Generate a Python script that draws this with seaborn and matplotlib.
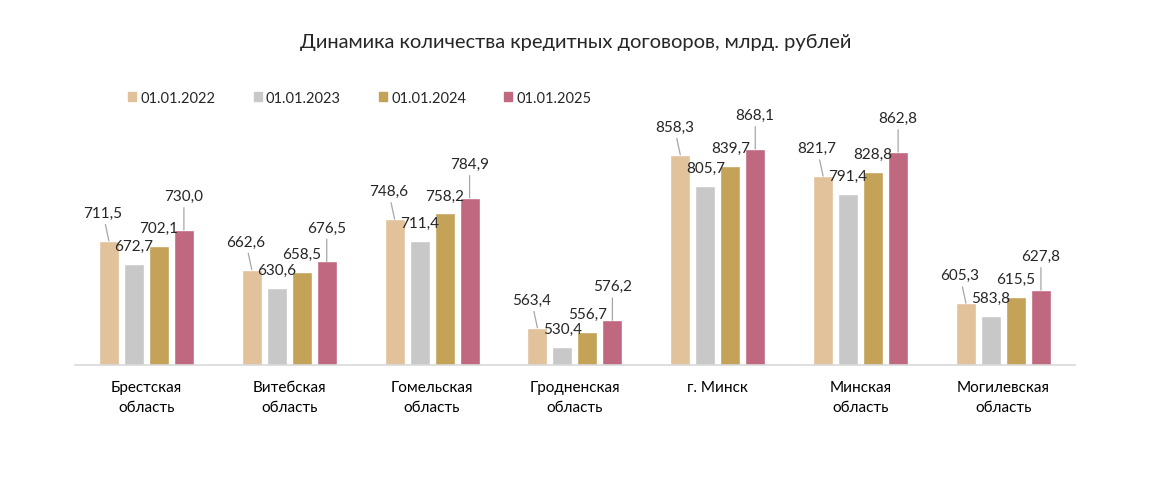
import pandas as pd
import numpy as np
import matplotlib.pyplot as plt
import seaborn as sns

# --- data ---
regions = ['Брестская\nобласть', 'Витебская\nобласть', 'Гомельская\nобласть',
           'Гродненская\nобласть', 'г. Минск', 'Минская\nобласть', 'Могилевская\nобласть']
dates = ['01.01.2022', '01.01.2023', '01.01.2024', '01.01.2025']
v2022 = [711.5, 662.6, 748.6, 563.4, 858.3, 821.7, 605.3]
v2023 = [672.7, 630.6, 711.4, 530.4, 805.7, 791.4, 583.8]
v2024 = [702.1, 658.5, 758.2, 556.7, 839.7, 828.8, 615.5]
v2025 = [730.0, 676.5, 784.9, 576.2, 868.1, 862.8, 627.8]
colors = ['#E2C29B', '#C8C8C8', '#C4A257', '#C0687F']

df = pd.DataFrame({
    'Region': regions * 4,
    'Date': np.repeat(dates, len(regions)),
    'Value': v2022 + v2023 + v2024 + v2025,
})

sns.set_style('white')
plt.rcParams['font.family'] = ['Lato', 'DejaVu Sans']

fig = plt.figure(figsize=(11.57, 4.89), dpi=100)
ax = fig.add_axes([0.0648, 0.2515, 0.8642, 0.4802])

sns.barplot(data=df, x='Region', y='Value', hue='Date', palette=colors,
            width=0.7, gap=0.2, ax=ax, saturation=1, legend=True)

ax.set_ylim(500, 900)
ax.set_xlim(-0.5, len(regions) - 0.5)
ax.set_xlabel('')
ax.set_ylabel('')
ax.set_yticks([])
for s in ['top', 'right', 'left']:
    ax.spines[s].set_visible(False)
ax.spines['bottom'].set_color('#D9D9D9')
ax.spines['bottom'].set_linewidth(1.2)
ax.tick_params(axis='x', length=0, pad=11, labelsize=11, colors='black')
for lbl in ax.get_xticklabels():
    lbl.set_linespacing(1.5)

# label offsets (pixels) per series: text centre relative to bar top
offsets = [(-6, 28), (0, 18), (0, 18), (0, 34)]
for cont, (dx, dy), in zip(ax.containers, offsets):
    for bar in cont:
        h = bar.get_height()
        x = bar.get_x() + bar.get_width() / 2
        txt = f'{h:.1f}'.replace('.', ',')
        if dy > 25:
            ax.annotate(txt, xy=(x, h), xytext=(dx, dy), textcoords='offset pixels',
                        ha='center', va='center', fontsize=11,
                        arrowprops=dict(arrowstyle='-', color='#A6A6A6', lw=0.9,
                                        shrinkA=1, shrinkB=0))
        else:
            ax.annotate(txt, xy=(x, h), xytext=(dx, dy), textcoords='offset pixels',
                        ha='center', va='center', fontsize=11)

ax.legend_.remove()
handles = [plt.Rectangle((0, 0), 1, 1, color=c) for c in colors]
fig.legend(handles, dates, loc='center left', bbox_to_anchor=(0.1045, 1 - 99 / 489),
           ncol=4, frameon=False, fontsize=10.5, handlelength=0.55, handleheight=0.55,
           handletextpad=0.3, columnspacing=2.6, borderpad=0)

fig.suptitle('Динамика количества кредитных договоров, млрд. рублей',
             x=0.498, y=1 - 42 / 489, va='center', fontsize=14.5)

plt.savefig('out.png', dpi=100)
